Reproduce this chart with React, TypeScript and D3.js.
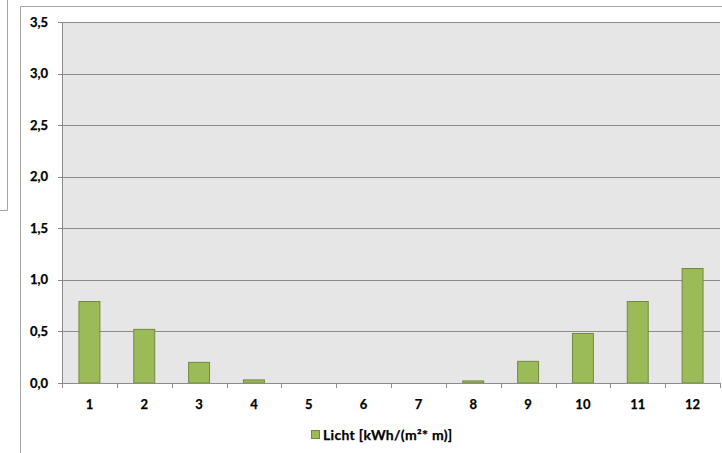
import React from "react";
import * as d3 from "d3";

const months = ["1", "2", "3", "4", "5", "6", "7", "8", "9", "10", "11", "12"];
const licht = [0.79, 0.52, 0.2, 0.03, 0, 0, 0, 0.02, 0.21, 0.48, 0.79, 1.11];
const yTicks = [0, 0.5, 1.0, 1.5, 2.0, 2.5, 3.0, 3.5];
const seriesName = "Licht [kWh/(m²* m)]";

const W = 722;
const H = 453;
const plot = { left: 62, right: 720, top: 22, bottom: 383 };
const font = "Lato, 'Open Sans', sans-serif";

export default function App() {
  const x = d3.scaleBand<string>().domain(months).range([plot.left, plot.right]).paddingInner(0.6).paddingOuter(0.3);
  const xb = d3.scaleBand<string>().domain(months).range([plot.left, plot.right]);
  const y = d3.scaleLinear().domain([0, 3.5]).range([plot.bottom, plot.top]);
  const fmt = (v: number) => d3.format(".1f")(v).replace(".", ",");
  const green = "#9bbb59";
  const greenDark = "#71893f";
  return (
    <div style={{ position: "absolute", left: 0, top: 0 }}>
      <svg width={W} height={H} style={{ display: "block", background: "#fff" }}>
        {/* neighbouring box */}
        <path d="M7.5,0 V210.5 H0" fill="none" stroke="#a6a6a6" strokeWidth={1} />
        {/* chart border */}
        <path d={`M20.5,${H} V6.5 H${W}`} fill="none" stroke="#a6a6a6" strokeWidth={1} />
        {/* plot area */}
        <rect x={plot.left} y={plot.top} width={plot.right - plot.left} height={plot.bottom - plot.top} fill="#e6e6e6" />
        {yTicks.map((t) => (
          <g key={t}>
            {t > 0 && (
              <line x1={plot.left} x2={plot.right} y1={Math.round(y(t)) + 0.5} y2={Math.round(y(t)) + 0.5} stroke="#8c8c8c" strokeWidth={1} />
            )}
            <line x1={plot.left - 4} x2={plot.left} y1={Math.round(y(t)) + 0.5} y2={Math.round(y(t)) + 0.5} stroke="#8c8c8c" />
            <text x={48} y={y(t)} dy="0.35em" textAnchor="end" fontFamily={font} fontWeight="bold" fontSize={13} fill="#000" stroke="#000" strokeWidth={0.25}>
              {fmt(t)}
            </text>
          </g>
        ))}
        {/* y axis line */}
        <line x1={plot.left + 0.5} x2={plot.left + 0.5} y1={plot.top} y2={plot.bottom} stroke="#8c8c8c" />
        {/* bars */}
        {licht.map((v, i) => {
          const m = months[i];
          const h = plot.bottom - y(v);
          if (h < 0.5) return null;
          return (
            <rect key={m} x={x(m)! + 0.5} y={y(v)} width={x.bandwidth() - 1} height={h} fill={green} stroke={greenDark} strokeWidth={1} />
          );
        })}
        {/* x axis */}
        <line x1={plot.left} x2={plot.right} y1={plot.bottom + 0.5} y2={plot.bottom + 0.5} stroke="#8c8c8c" />
        {months.concat(["end"]).map((m, i) => {
          const xx = Math.round(i < months.length ? xb(m)! : plot.right) + 0.5;
          return <line key={"t" + m} x1={xx} x2={xx} y1={plot.bottom} y2={plot.bottom + 5} stroke="#8c8c8c" />;
        })}
        {months.map((m) => (
          <text key={"l" + m} x={xb(m)! + xb.bandwidth() / 2} y={404} dy="0.35em" textAnchor="middle" fontFamily={font} fontWeight="bold" fontSize={13} fill="#000" stroke="#000" strokeWidth={0.25}>
            {m}
          </text>
        ))}
        {/* legend */}
        <rect x={311.5} y={430.5} width={8} height={8} fill={green} stroke={greenDark} />
        <text x={323} y={435} dy="0.35em" fontFamily={font} fontWeight="bold" fontSize={14} letterSpacing={0.3} fill="#000" stroke="#000" strokeWidth={0.25}>
          {seriesName}
        </text>
      </svg>
    </div>
  );
}
